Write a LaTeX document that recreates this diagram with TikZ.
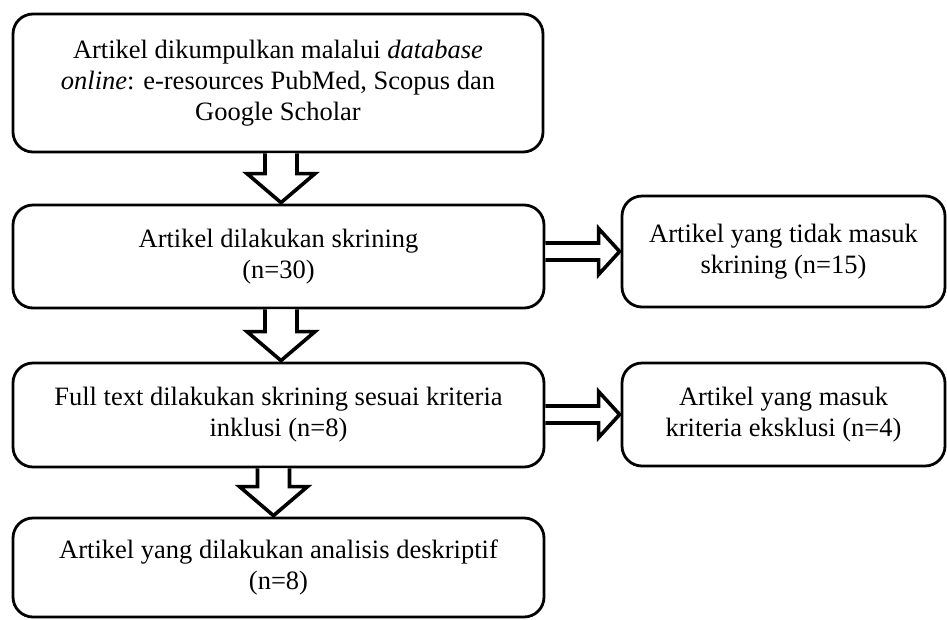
\documentclass[tikz,border=0pt]{standalone}
\usepackage{fontspec}
\setmainfont{Liberation Serif}
\usetikzlibrary{calc}
\begin{document}
\begin{tikzpicture}[x=1pt,y=-1pt,
  box/.style={draw, line width=2.8pt, rounded corners=20pt, align=center,
    font=\fontsize{26.5}{31}\selectfont, inner sep=0pt},
  blockarrow/.style={draw, line width=3.6pt, fill=white, line join=miter, miter limit=10}]
\useasboundingbox (0,0) rectangle (947,619);

\node[box, minimum width=530pt, minimum height=138pt] (b1) at (278,83)
  {Artikel dikumpulkan malalui \textit{database}\\\textit{online}: e-resources PubMed, Scopus dan\\Google Scholar};
\node[box, minimum width=531pt, minimum height=103pt] (b2) at (278.5,256.5)
  {Artikel dilakukan skrining\\(n=30)};
\node[box, minimum width=531pt, minimum height=104pt] (b3) at (278.5,415)
  {Full text dilakukan skrining sesuai kriteria\\inklusi (n=8)};
\node[box, minimum width=531pt, minimum height=99pt] (b4) at (278.5,567.5)
  {Artikel yang dilakukan analisis deskriptif\\(n=8)};
\node[box, minimum width=323pt, minimum height=111pt] (r1) at (783.5,251.5)
  {Artikel yang tidak masuk\\skrining (n=15)};
\node[box, minimum width=323pt, minimum height=103pt] (r2) at (783.5,414.5)
  {Artikel yang masuk\\kriteria eksklusi (n=4)};

% down arrows
\coordinate (d1s) at ($(b1.south)+(3,0)$);
\coordinate (d1t) at ($(b2.north)+(2.5,0)$);
\coordinate (d2s) at ($(b2.south)+(2.5,0)$);
\coordinate (d2t) at ($(b3.north)+(2.5,0)$);
\coordinate (d3s) at ($(b3.south)+(-5,0)$);
\coordinate (d3t) at ($(b4.north)+(-5,0)$);
\foreach \s/\t in {d1s/d1t, d2s/d2t, d3s/d3t}{
  \draw[blockarrow] ($(\s)+(-16,0)$) -- ($(\t)+(-16,-30)$) -- ($(\t)+(-34,-30)$)
    -- ($(\t)+(0,-1)$) -- ($(\t)+(34,-30)$) -- ($(\t)+(16,-30)$) -- ($(\s)+(16,0)$);
}

% side arrows
\coordinate (h1s) at (b2.east |- r1.west);
\coordinate (h1t) at (r1.west);
\coordinate (h2s) at (b3.east |- r2.west);
\coordinate (h2t) at (r2.west);
\foreach \s/\t in {h1s/h1t, h2s/h2t}{
  \draw[blockarrow] ($(\s)+(0,-8.5)$) -- ($(\t)+(-22,-8.5)$) -- ($(\t)+(-22,-23)$)
    -- ($(\t)+(-1,0)$) -- ($(\t)+(-22,23)$) -- ($(\t)+(-22,8.5)$) -- ($(\s)+(0,8.5)$);
}
\end{tikzpicture}
\end{document}
